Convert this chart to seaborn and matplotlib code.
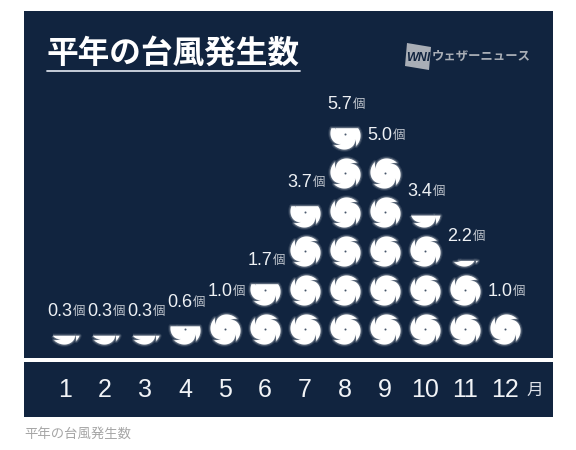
"""
平年の台風発生数 -- 月別の台風アイコン積み上げ図
"""

import numpy as np
import pandas as pd
import matplotlib
matplotlib.use("Agg")
import matplotlib.pyplot as plt
from matplotlib.path import Path
from matplotlib.transforms import Bbox
import seaborn as sns

MONTHS = [1, 2, 3, 4, 5, 6, 7, 8, 9, 10, 11, 12]
COUNTS = [0.3, 0.3, 0.3, 0.6, 1.0, 1.7, 3.7, 5.7, 5.0, 3.4, 2.2, 1.0]
TITLE = "平年の台風発生数"
BRAND = "ウェザーニュース"
UNIT = "個"
MONTH_UNIT = "月"

NAVY = "#11243f"
CJK = ["Noto Sans CJK JP", "DejaVu Sans"]
W, H = 576, 450

# 1行ぶんの高さに対するアイコンの大きさ (39px の行に 30px のアイコン)
ICON_RATIO = 30 / 39


def typhoon_path(cut=1.0):
    """渦巻き型のアイコン。cut は下から何割を残すか。"""
    theta, radius = [], []
    span = np.pi / 2
    overlap = 0.5
    for k in range(4):
        tip = k * span + 0.75
        # 腕の外側を反時計回りに、だんだん内側へ
        u = np.linspace(0, 1, 30)
        theta += list(tip + u * (span + overlap))
        radius += list(1.0 - 0.06 * np.sin(u * np.pi * 0.5) - 0.36 * u ** 4)
        # 次の腕の先端へ折り返す
        v = np.linspace(0, 1, 12)[1:-1]
        theta += list(tip + span + overlap * (1 - v))
        radius += list(0.58 + 0.42 * v ** 1.2)
    theta = np.array(theta)
    radius = np.array(radius)
    outer = np.column_stack([radius * np.cos(theta), radius * np.sin(theta)])
    body = Path(np.vstack([outer, outer[0]]), closed=True)
    # 中心の目 (穴なので逆回り)
    a = np.linspace(0, -2 * np.pi, 16)
    eye = np.column_stack([0.07 * np.cos(a), 0.07 * np.sin(a)])
    hole = Path(np.vstack([eye, eye[0]]), closed=True)
    shape = Path.make_compound_path(body, hole)
    if cut < 1.0:
        top = -1.0 + 2.0 * cut
        shape = shape.clip_to_bbox(Bbox([[-1.5, -1.5], [1.5, top]]))
    # マーカーの正規化を揃えるための大きさゼロの点
    anchor = Path([[1.0, 1.0], [1.0, 1.0]], [Path.MOVETO, Path.LINETO])
    return Path.make_compound_path(shape, anchor)


def icon_table():
    rows = []
    for month, count in zip(MONTHS, COUNTS):
        whole = int(np.floor(count + 1e-9))
        for r in range(whole):
            rows.append({"month": month, "row": r, "cut": 1.0})
        if count - whole > 1e-9:
            rows.append({"month": month, "row": whole, "cut": round(count - whole, 1)})
    return pd.DataFrame(rows)


def label_height(count):
    """値のラベルはアイコン上端の少し上に置く。"""
    whole = int(np.floor(count + 1e-9))
    frac = count - whole
    if frac < 1e-9:
        return count
    return whole + frac * ICON_RATIO + 0.255


sns.set_theme(style="white")
plt.rcParams["font.family"] = ["Liberation Sans", "Noto Sans CJK JP", "DejaVu Sans"]

fig = plt.figure(figsize=(W / 100, H / 100), dpi=100, facecolor="white")
# 上のパネル (24,11)-(553,358) / 下の帯 (24,362)-(553,417)
ax = fig.add_axes([24 / W, 1 - 358 / H, 529 / W, 347 / H], facecolor=NAVY)
band = fig.add_axes([24 / W, 1 - 417 / H, 529 / W, 55 / H], facecolor=NAVY)
for a in (ax, band):
    a.set_xlim(1 - 41 / 40, 1 + 488 / 40)
    sns.despine(ax=a, left=True, bottom=True)
ax.set_ylim(-29 / 39, 318 / 39)

icons = icon_table()
for cut, part in icons.groupby("cut"):
    marker = typhoon_path(cut)
    # ぼんやり光る縁
    for lw, alpha in [(3.2, 0.10), (1.7, 0.22)]:
        sns.scatterplot(data=part, x="month", y="row", marker=marker, s=510, color="white",
                        edgecolor="white", linewidth=lw, alpha=alpha, legend=False, ax=ax, clip_on=False)
    sns.scatterplot(data=part, x="month", y="row", marker=marker, s=510, color="white",
                    linewidth=0, legend=False, ax=ax, clip_on=False)
ax.set_xlabel("")
ax.set_ylabel("")
ax.set_xticks([])
ax.set_yticks([])

# 値ラベル
for month, count in zip(MONTHS, COUNTS):
    y = label_height(count)
    ann = ax.annotate(f"{count:.1f}", (month, y), xytext=(-17.5, -1), textcoords="offset pixels",
                      color="#eef1f5", fontsize=13, ha="left", va="center")
    ax.annotate(UNIT, xy=(1, 0.5), xycoords=ann, xytext=(0.5, -0.5), textcoords="offset points",
                color="#c3c8d0", fontsize=9, ha="left", va="center", family=CJK)

# タイトルと下線
fig.text(47 / W, 1 - 54 / H, TITLE, color="white", fontsize=22.8, fontweight="bold", ha="left", va="center",
         family=CJK)
fig.add_artist(plt.Line2D([47 / W, 300 / W], [1 - 71 / H, 1 - 71 / H], color="#d5dbe6", lw=1.3))

# ロゴ
logo_x = [407, 431, 429, 405]
logo_y = [43, 47, 70, 66]
fig.add_artist(plt.Polygon(np.column_stack([np.array(logo_x) / W, 1 - np.array(logo_y) / H]), closed=True,
                           facecolor="#a9aeb6", edgecolor="none", transform=fig.transFigure))
fig.text(418 / W, 1 - 58 / H, "WNI", color=NAVY, fontsize=9, fontweight="bold", style="italic",
         ha="center", va="center")
fig.text(432 / W, 1 - 56 / H, BRAND, color="#a9aeb6", fontsize=8.9, fontweight="bold", ha="left", va="center",
         family=CJK)

# 月の目盛り
band.set_ylim(0, 1)
band.set_yticks([])
band.set_xticks(MONTHS)
band.set_xticklabels([str(m) for m in MONTHS], color="#f2f4f7", fontsize=18)
band.tick_params(axis="x", length=0, pad=-28)
band.text(1 + (535 - 65) / 40, 0.48, MONTH_UNIT, color="#dfe3ea", fontsize=12, ha="center", va="center",
          family=CJK)

fig.text(24 / W, 1 - 434 / H, TITLE, color="#a6a6a6", fontsize=9.6, ha="left", va="center", family=CJK)

fig.savefig("out.png", dpi=100, facecolor="white")
